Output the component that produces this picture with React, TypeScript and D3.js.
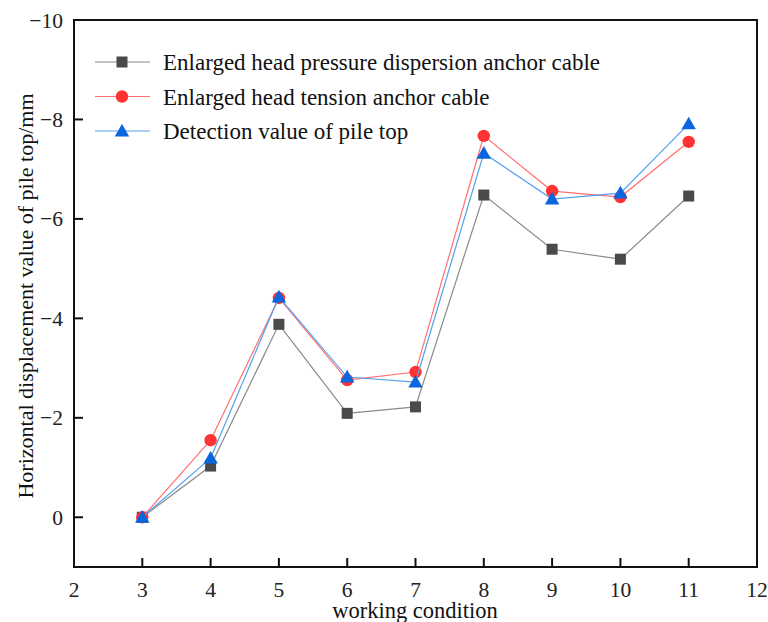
import React from "react";
import * as d3 from "d3";

const conditions = [3, 4, 5, 6, 7, 8, 9, 10, 11];
const pressureCable = [0, -1.03, -3.88, -2.09, -2.22, -6.48, -5.39, -5.19, -6.46];
const tensionCable = [0, -1.55, -4.41, -2.76, -2.92, -7.67, -6.56, -6.44, -7.55];
const detection = [0, -1.19, -4.43, -2.82, -2.72, -7.32, -6.40, -6.52, -7.91];
const xTicks = [2, 3, 4, 5, 6, 7, 8, 9, 10, 11, 12];
const yTicks = [0, -2, -4, -6, -8, -10];

const seriesNames = [
  "Enlarged head pressure dispersion anchor cable",
  "Enlarged head tension anchor cable",
  "Detection value of pile top",
];

const W = 768;
const H = 622;
const plot = { left: 74, right: 757, top: 20, bottom: 567 };
const FONT = `"Liberation Serif", "Times New Roman", "Tinos", serif`;

const x = d3.scaleLinear().domain([2, 12]).range([plot.left, plot.right]);
const y = d3.scaleLinear().domain([1, -10]).range([plot.bottom, plot.top]);

type Shape = "square" | "circle" | "triangle";
const styles: { line: string; fill: string; shape: Shape }[] = [
  { line: "#8a8a8a", fill: "#4a4a4a", shape: "square" },
  { line: "#ff7070", fill: "#ff3333", shape: "circle" },
  { line: "#55a0ee", fill: "#0a66dd", shape: "triangle" },
];

function Marker({ cx, cy, shape, fill }: { cx: number; cy: number; shape: Shape; fill: string }) {
  if (shape === "square") return <rect x={cx - 5.5} y={cy - 5.5} width={11} height={11} fill={fill} />;
  if (shape === "circle") return <circle cx={cx} cy={cy} r={6.2} fill={fill} />;
  const s = 7.2;
  return (
    <path
      d={`M${cx},${cy - s} L${cx + s},${cy + s * 0.75} L${cx - s},${cy + s * 0.75} Z`}
      fill={fill}
    />
  );
}

export default function App() {
  const all = [pressureCable, tensionCable, detection];
  const line = d3
    .line<number>()
    .x((_, i) => x(conditions[i]))
    .y((v) => y(v));
  const fmt = (v: number) => (v < 0 ? "\u2212" + Math.abs(v) : String(v));
  const txt = { fontFamily: FONT };

  return (
    <svg width={W} height={H} style={{ position: "absolute", left: 0, top: 0, background: "#fff" }}>
      {/* series lines and markers */}
      {all.map((vals, si) => (
        <g key={si}>
          <path d={line(vals) || ""} fill="none" stroke={styles[si].line} strokeWidth={1.2} />
          {vals.map((v, i) => (
            <Marker key={i} cx={x(conditions[i])} cy={y(v)} shape={styles[si].shape} fill={styles[si].fill} />
          ))}
        </g>
      ))}

      {/* frame */}
      <rect
        x={plot.left}
        y={plot.top}
        width={plot.right - plot.left}
        height={plot.bottom - plot.top}
        fill="none"
        stroke="#111"
        strokeWidth={2}
      />

      {/* x ticks */}
      {xTicks.map((t) => (
        <g key={t}>
          <line x1={x(t)} x2={x(t)} y1={plot.bottom} y2={plot.bottom - 9} stroke="#111" strokeWidth={2} />
          <text x={x(t)} y={597} textAnchor="middle" style={txt} fontSize={21.5} fill="#222">
            {t}
          </text>
        </g>
      ))}

      {/* y ticks */}
      {yTicks.map((t) => (
        <g key={t}>
          <line x1={plot.left} x2={plot.left + 9} y1={y(t)} y2={y(t)} stroke="#111" strokeWidth={2} />
          <text x={63} y={y(t) + 7.5} textAnchor="end" style={txt} fontSize={21.5} fill="#222">
            {fmt(t)}
          </text>
        </g>
      ))}

      {/* axis titles */}
      <text x={415} y={618} textAnchor="middle" style={txt} fontSize={22.5} fill="#111">
        working condition
      </text>
      <text
        transform={`translate(33,296) rotate(-90)`}
        textAnchor="middle"
        style={txt}
        fontSize={22}
        fill="#111"
      >
        Horizontal displacement value of pile top/mm
      </text>

      {/* legend */}
      {seriesNames.map((name, i) => {
        const ly = 62 + i * 34.5;
        return (
          <g key={name}>
            <line x1={95} x2={150} y1={ly} y2={ly} stroke={styles[i].line} strokeWidth={1.2} />
            <Marker cx={122} cy={ly} shape={styles[i].shape} fill={styles[i].fill} />
            <text x={163} y={ly + 8} style={txt} fontSize={23} fill="#111">
              {name}
            </text>
          </g>
        );
      })}
    </svg>
  );
}
